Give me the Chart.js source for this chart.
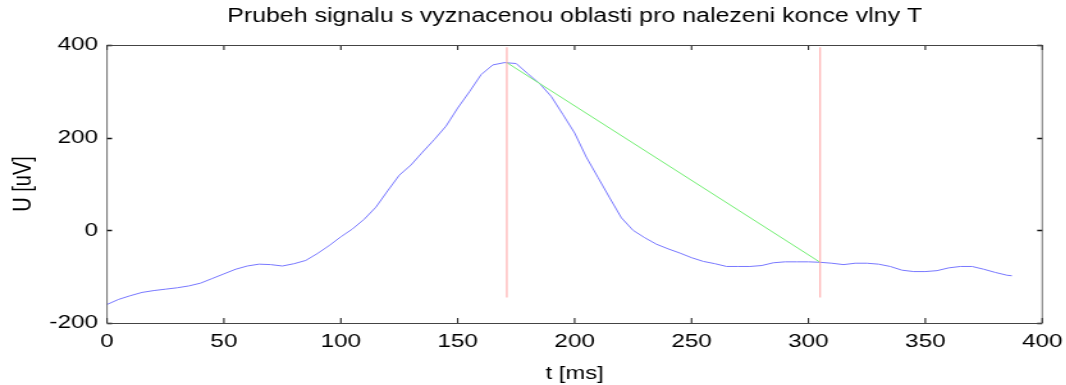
<!DOCTYPE html>
<html>
<head>
<meta charset="utf-8">
<script src="https://cdn.jsdelivr.net/npm/chart.js@4/dist/chart.umd.min.js"></script>
<style>
html,body{margin:0;padding:0;background:#fff;overflow:hidden;}
#wrap{width:1066px;height:385px;position:relative;overflow:hidden;}
#c{position:absolute;left:0;top:0;width:833px;height:385px;transform:scaleX(1.28);transform-origin:0 0;}
</style>
</head>
<body>
<div id="wrap"><canvas id="c" width="833" height="385"></canvas></div>
<script>
// Signal (blue)
const timeMs = [0,5,10,15,20,25,30,35,40,45,50,55,60,65,70,75,80,85,90,95,100,105,110,115,120,125,130,135,140,145,150,155,160,165,170,175,180,185,190,195,200,205,210,215,220,225,230,235,240,245,250,255,260,265,270,275,280,285,290,295,300,305,310,315,320,325,330,335,340,345,350,355,360,365,370,375,380,385,387];
const signalUv = [-160,-149,-141,-134,-130,-127,-124,-120,-114,-104,-94,-84,-77,-73,-74,-77,-72,-65,-50,-33,-14,3,24,50,85,119,141,169,196,225,264,299,336,357,362,360,338,317,289,250,210,158,114,70,27,0,-16,-30,-40,-49,-59,-67,-72,-78,-78,-78,-76,-70,-68,-68,-68,-69,-71,-74,-71,-71,-73,-78,-86,-89,-89,-87,-81,-78,-78,-84,-91,-97,-98];
// Region boundaries (red)
const regionStartMs = [171, 171];
const regionEndMs = [305, 305];
const regionLineUv = [395, -145];
// Connecting line (green)
const chordMs = [171, 305];
const chordUv = [362, -69];
// Axes ticks
const xTicks = [0,50,100,150,200,250,300,350,400];
const yTicks = [-200,0,200,400];

const toPts = (xs, ys) => xs.map((x, i) => ({x, y: ys[i]}));

const FONT = "'Liberation Sans', Arial, Helvetica, sans-serif";
const SX = 1.28; // horizontal stretch of the figure

const boxTicks = {
  id: 'boxTicks',
  afterDatasetsDraw(chart) {
    const {ctx, chartArea: a, scales: {x, y}} = chart;
    ctx.save();
    ctx.strokeStyle = '#111';
    const L = 5;
    xTicks.forEach(v => {
      const px = x.getPixelForValue(v);
      ctx.lineWidth = 1.3 / SX;
      ctx.beginPath();
      ctx.moveTo(px, a.bottom); ctx.lineTo(px, a.bottom - L);
      ctx.moveTo(px, a.top); ctx.lineTo(px, a.top + L);
      ctx.stroke();
    });
    yTicks.forEach(v => {
      const py = Math.round(y.getPixelForValue(v)) + 0.5;
      ctx.lineWidth = 1.3;
      ctx.beginPath();
      ctx.moveTo(a.left, py); ctx.lineTo(a.left + L / SX, py);
      ctx.moveTo(a.right, py); ctx.lineTo(a.right - L / SX, py);
      ctx.stroke();
    });
    ctx.strokeStyle = '#444';
    ctx.lineWidth = 1;
    ctx.beginPath();
    ctx.moveTo(a.left, Math.round(a.top) + 0.5); ctx.lineTo(a.right, Math.round(a.top) + 0.5);
    ctx.moveTo(a.left, Math.round(a.bottom) + 0.5); ctx.lineTo(a.right, Math.round(a.bottom) + 0.5);
    ctx.stroke();
    ctx.lineWidth = 1 / SX;
    ctx.beginPath();
    ctx.moveTo(a.left, a.top); ctx.lineTo(a.left, a.bottom);
    ctx.moveTo(a.right, a.top); ctx.lineTo(a.right, a.bottom);
    ctx.stroke();
    ctx.restore();
  }
};

new Chart(document.getElementById('c'), {
  type: 'scatter',
  data: {
    datasets: [
      { data: toPts(timeMs, signalUv), borderColor: '#7878ff', borderWidth: 1, showLine: true, pointRadius: 0, tension: 0, order: 3 },
      { data: toPts(chordMs, chordUv), borderColor: '#70ee70', borderWidth: 1, showLine: true, pointRadius: 0, order: 2 },
      { data: toPts(regionStartMs, regionLineUv), borderColor: '#ffa8a8', borderWidth: 1.1, showLine: true, pointRadius: 0, order: 1 },
      { data: toPts(regionEndMs, regionLineUv), borderColor: '#ffa8a8', borderWidth: 1.1, showLine: true, pointRadius: 0, order: 1 }
    ]
  },
  options: {
    responsive: false,
    animation: false,
    events: [],
    layout: { padding: { left: 0, right: 24 / SX, top: 0, bottom: 0 } },
    plugins: {
      legend: { display: false },
      tooltip: { enabled: false },
      title: {
        display: true,
        fullSize: false,
        text: 'Prubeh signalu s vyznacenou oblasti pro nalezeni konce vlny T',
        color: '#000',
        font: { family: FONT, size: 19.5, weight: 'normal', lineHeight: 1.2 },
        padding: { top: 5, bottom: 16.6 }
      }
    },
    scales: {
      x: {
        type: 'linear', min: 0, max: 400,
        afterBuildTicks: s => { s.ticks = xTicks.map(v => ({value: v})); },
        afterFit: s => { s.height = 62; s.paddingLeft = 0; s.paddingRight = 0; },
        grid: { display: false, drawTicks: false },
        border: { display: false },
        ticks: { color: '#000', padding: 7, maxRotation: 0, font: { family: FONT, size: 19 } },
        title: { display: true, text: 't [ms]', color: '#000', font: { family: FONT, size: 18.5 }, padding: { top: 3, bottom: 0 } }
      },
      y: {
        type: 'linear', min: -200, max: 400,
        afterBuildTicks: s => { s.ticks = yTicks.map(v => ({value: v})); },
        afterFit: s => { s.width = 107 / SX; s.paddingTop = 0; s.paddingBottom = 0; },
        grid: { display: false, drawTicks: false },
        border: { display: false },
        ticks: { color: '#000', padding: 7, font: { family: FONT, size: 19 } },
        title: { display: true, text: 'U [uV]', color: '#000', font: { family: FONT, size: 20 }, padding: { top: 6, bottom: 0 } }
      }
    }
  },
  plugins: [boxTicks]
});
</script>
</body>
</html>
